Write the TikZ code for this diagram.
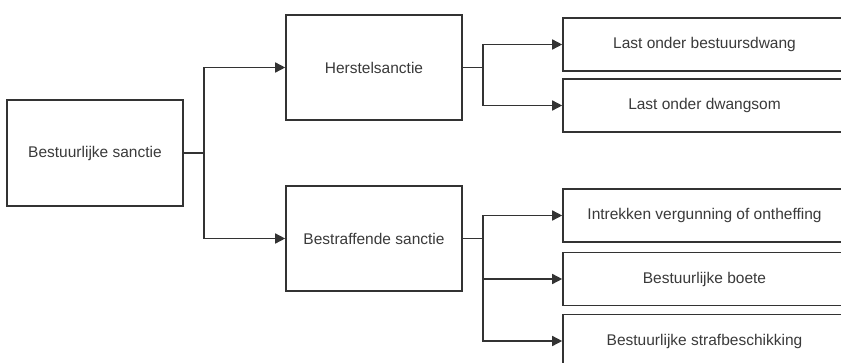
\documentclass[tikz,border=0pt]{standalone}
\usepackage{fontspec}
\setmainfont{Liberation Sans}
\usetikzlibrary{arrows.meta}
\definecolor{lc}{HTML}{333333}
\definecolor{tc}{HTML}{3A3A3A}
\tikzset{
  box/.style={draw=lc, line width=1.6pt, fill=white, inner sep=0pt, font=\fontsize{15.5}{18}\selectfont, text=tc},
  conn/.style={draw=lc, line width=1.5pt},
  arr/.style={conn, -{Triangle[length=10pt,width=10pt]}}
}
\begin{document}
\begin{tikzpicture}[x=1pt,y=-1pt]
\useasboundingbox (0,0) rectangle (841,362);
\clip (0,0) rectangle (841,362);
\fill[white] (0,0) rectangle (841,362);
\node[box, minimum width=176pt, minimum height=106pt] (A) at (95,153) {Bestuurlijke sanctie};
\node[box, minimum width=176pt, minimum height=105pt] (H) at (374,67.5) {Herstelsanctie};
\node[box, minimum width=176pt, minimum height=105pt] (B) at (374,238.5) {Bestraffende sanctie};
\node[box, minimum width=283pt, minimum height=53pt] (L1) at (704.5,44.5) {Last onder bestuursdwang};
\node[box, minimum width=283pt, minimum height=53pt] (L2) at (704.5,105.5) {Last onder dwangsom};
\node[box, minimum width=283pt, minimum height=53pt] (P1) at (704.5,215.5) {Intrekken vergunning of ontheffing};
\node[box, minimum width=283pt, minimum height=53pt] (P2) at (704.5,279) {Bestuurlijke boete};
\node[box, minimum width=283pt, minimum height=53pt] (P3) at (704.5,341) {Bestuurlijke strafbeschikking};
\coordinate (jA) at (204,153);
\coordinate (jH) at (483,67.5);
\coordinate (jB) at (483,238.5);
\draw[conn] (A.east) -- (jA);
\draw[arr] (jA) |- (H.west);
\draw[arr] (jA) |- (B.west);
\draw[conn] (H.east) -- (jH);
\draw[arr] (jH) |- (L1.west);
\draw[arr] (jH) |- (L2.west);
\draw[conn] (B.east) -- (jB);
\draw[arr] (jB) |- (P1.west);
\draw[arr] (jB) |- (P2.west);
\draw[arr] (jB) |- (P3.west);
\end{tikzpicture}
\end{document}
